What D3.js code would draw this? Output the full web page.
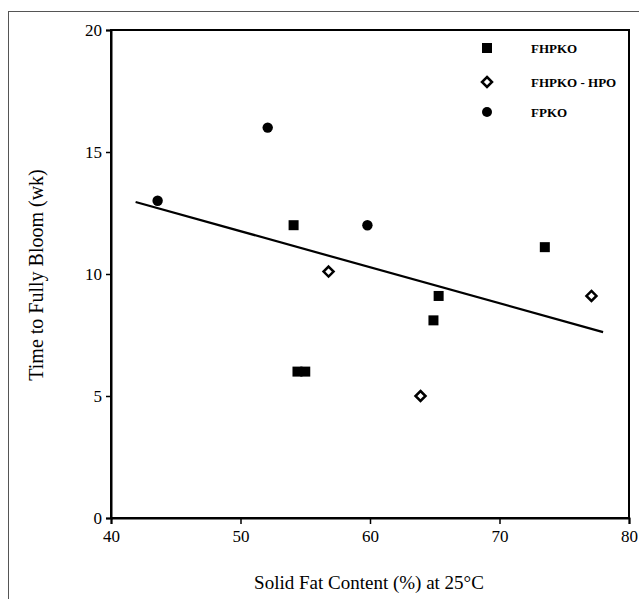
<!DOCTYPE html>
<html><head><meta charset="utf-8">
<script src="https://cdn.jsdelivr.net/npm/d3@7"></script>
<style>body{margin:0;background:#fff}svg{display:block}text{font-family:"Liberation Serif","Times New Roman",serif;fill:#000}</style>
</head><body>
<svg id="c" width="639" height="599"></svg>
<script>
const fhpkoX = [54.1, 73.5, 65.3, 64.9, 54.4, 55.0];
const fhpkoY = [12.0, 11.1, 9.1, 8.1, 6.0, 6.0];
const hpoX = [56.8, 77.1, 63.9];
const hpoY = [10.1, 9.1, 5.0];
const fpkoX = [43.6, 52.1, 59.8];
const fpkoY = [13.0, 16.0, 12.0];
const trendX = [41.9, 78.0];
const trendY = [12.95, 7.62];
const xTicks = [40, 50, 60, 70, 80];
const yTicks = [0, 5, 10, 15, 20];
const legendLabels = ["FHPKO", "FHPKO - HPO", "FPKO"];

const svg = d3.select("#c");
svg.append("rect").attr("x", 8.5).attr("y", 11.5).attr("width", 640).attr("height", 600)
  .attr("fill", "none").attr("stroke", "#555").attr("stroke-width", 1);

const x = d3.scaleLinear().domain([40, 80]).range([111, 629]);
const y = d3.scaleLinear().domain([0, 20]).range([518, 30]);

svg.append("rect").attr("x", x(40)).attr("y", y(20)).attr("width", x(80) - x(40)).attr("height", y(0) - y(20))
  .attr("fill", "none").attr("stroke", "#000").attr("stroke-width", 2);

const xa = svg.append("g").attr("transform", `translate(0,${y(0)})`)
  .call(d3.axisBottom(x).tickValues(xTicks).tickSize(6).tickPadding(6).tickFormat(d3.format("d")));
const ya = svg.append("g").attr("transform", `translate(${x(40)},0)`)
  .call(d3.axisLeft(y).tickValues(yTicks).tickSize(5).tickPadding(4).tickFormat(d3.format("d")));
[xa, ya].forEach(a => {
  a.select(".domain").attr("stroke", "#000").attr("stroke-width", 2);
  a.selectAll(".tick line").attr("stroke", "#000").attr("stroke-width", 1.5);
  a.selectAll("text").style("font-size", "17px").style("font-family", '"Liberation Serif",serif').attr("fill", "#000");
});

svg.append("line").attr("x1", x(trendX[0])).attr("y1", y(trendY[0])).attr("x2", x(trendX[1])).attr("y2", y(trendY[1]))
  .attr("stroke", "#000").attr("stroke-width", 2.2);

const sq = 10;
function squares(g, xs, ys) {
  g.selectAll(null).data(xs).enter().append("rect")
    .attr("x", (d) => x(d) - sq / 2).attr("y", (d, i) => y(ys[i]) - sq / 2)
    .attr("width", sq).attr("height", sq).attr("fill", "#000");
}
function diamonds(g, xs, ys) {
  g.selectAll(null).data(xs).enter().append("path")
    .attr("d", (d, i) => { const cx = x(d), cy = y(ys[i]), r = 5; return `M${cx},${cy - r}L${cx + r},${cy}L${cx},${cy + r}L${cx - r},${cy}Z`; })
    .attr("fill", "#fff").attr("stroke", "#000").attr("stroke-width", 2.5);
}
function circles(g, xs, ys) {
  g.selectAll(null).data(xs).enter().append("circle")
    .attr("cx", (d) => x(d)).attr("cy", (d, i) => y(ys[i])).attr("r", 5.2).attr("fill", "#000");
}
const pts = svg.append("g");
squares(pts, fhpkoX, fhpkoY);
diamonds(pts, hpoX, hpoY);
circles(pts, fpkoX, fpkoY);

const lg = svg.append("g");
const ly = [48, 82, 112];
lg.append("rect").attr("x", 487 - 5).attr("y", ly[0] - 5).attr("width", 10).attr("height", 10).attr("fill", "#000");
lg.append("path").attr("d", `M487,${ly[1] - 5}L492,${ly[1]}L487,${ly[1] + 5}L482,${ly[1]}Z`).attr("fill", "#fff").attr("stroke", "#000").attr("stroke-width", 2.5);
lg.append("circle").attr("cx", 487).attr("cy", ly[2]).attr("r", 5).attr("fill", "#000");
legendLabels.forEach((t, i) => {
  lg.append("text").attr("x", 531).attr("y", ly[i]).attr("dy", "0.35em").style("font-size", "13px").style("font-weight", "bold").text(t);
});

svg.append("text").attr("x", 369).attr("y", 589).attr("text-anchor", "middle").style("font-size", "19px").text("Solid Fat Content (%) at 25°C");
svg.append("text").attr("transform", "translate(43,275) rotate(-90)").attr("text-anchor", "middle").style("font-size", "20px").text("Time to Fully Bloom (wk)");
</script>
</body></html>
